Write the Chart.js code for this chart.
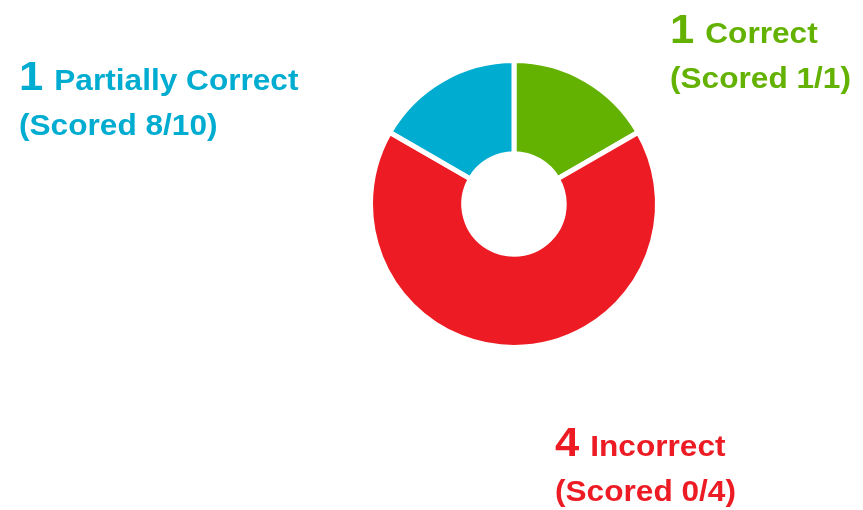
<!DOCTYPE html>
<html>
<head>
<meta charset="utf-8">
<script src="https://cdn.jsdelivr.net/npm/chart.js@4/dist/chart.umd.min.js"></script>
<style>
  html, body { margin: 0; padding: 0; background: #fff; }
  #wrap { width: 863px; height: 510px; position: relative; }
</style>
</head>
<body>
<div id="wrap"><canvas id="scorechart" width="863" height="510"></canvas></div>
<script>
const categories = ['Correct', 'Incorrect', 'Partially Correct']
const counts = [1, 4, 1]
const scored = ['(Scored 1/1)', '(Scored 0/4)', '(Scored 8/10)']
const colors = ['#63b100', '#ed1c24', '#00acd0']

// where each label block sits (left x, first baseline)
const labelPos = [
  { x: 670, y: 43 },
  { x: 555, y: 456 },
  { x: 19, y: 90 }
]

const labelPlugin = {
  id: 'sliceLabels',
  afterDraw (chart) {
    const ctx = chart.ctx
    categories.forEach((cat, i) => {
      const p = labelPos[i]
      ctx.save()
      ctx.translate(p.x, p.y)
      ctx.scale(1.09, 1) // text in the original is a bit wide
      ctx.textBaseline = 'alphabetic'
      ctx.textAlign = 'left'
      ctx.fillStyle = colors[i]
      ctx.font = 'bold 40px "Liberation Sans", Arial, sans-serif'
      const num = String(counts[i])
      ctx.fillText(num, 0, 0)
      const w = ctx.measureText(num + ' ').width
      ctx.font = 'bold 29px "Liberation Sans", Arial, sans-serif'
      ctx.fillText(cat, w - 1, 0)
      ctx.fillText(scored[i], 0, 45)
      ctx.restore()
    })
  }
}

new Chart(document.getElementById('scorechart'), {
  type: 'doughnut',
  data: {
    labels: categories,
    datasets: [
      {
        data: counts,
        backgroundColor: colors,
        borderColor: '#ffffff',
        borderWidth: 5,
        hoverOffset: 0
      }
    ]
  },
  options: {
    responsive: false,
    animation: false,
    cutout: '35%',
    layout: {
      padding: { left: 368, right: 203, top: 58, bottom: 160 }
    },
    plugins: {
      legend: { display: false },
      tooltip: { enabled: false }
    }
  },
  plugins: [labelPlugin]
})
</script>
</body>
</html>
